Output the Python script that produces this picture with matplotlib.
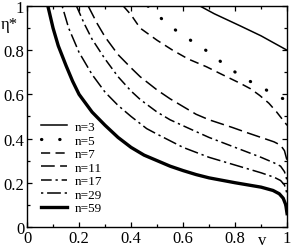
import matplotlib
matplotlib.use("Agg")
import matplotlib.pyplot as plt
from matplotlib.ticker import MultipleLocator, FuncFormatter

plt.rcParams["font.family"] = ["Liberation Serif", "DejaVu Serif"]
plt.rcParams["mathtext.fontset"] = "stix"

# curves, one per n
x_n3 = [0.665, 0.72, 0.82, 0.9, 0.946, 1.0]
y_n3 = [1.0, 0.965, 0.91, 0.865, 0.835, 0.80]

x_n5 = [0.465, 0.5, 0.56, 0.635, 0.7, 0.775, 0.845, 0.92, 0.96, 1.0]
y_n5 = [1.0, 0.96, 0.9, 0.84, 0.79, 0.72, 0.667, 0.62, 0.59, 0.575]

x_n7 = [0.37, 0.4, 0.435, 0.5, 0.56, 0.62, 0.69, 0.75, 0.82, 0.86, 0.895, 0.93, 0.96, 1.0]
y_n7 = [1.0, 0.96, 0.9, 0.845, 0.8, 0.76, 0.725, 0.69, 0.65, 0.625, 0.595, 0.56, 0.52, 0.46]

x_n11 = [0.235, 0.27, 0.3, 0.35, 0.4, 0.435, 0.5, 0.55, 0.65, 0.7, 0.79, 0.85, 0.9, 0.95, 0.975, 0.99, 1.0]
y_n11 = [1.0, 0.92, 0.86, 0.78, 0.72, 0.68, 0.62, 0.58, 0.51, 0.485, 0.45, 0.425, 0.405, 0.385, 0.37, 0.345, 0.3]

x_n17 = [0.19, 0.22, 0.25, 0.3, 0.35, 0.4, 0.435, 0.5, 0.55, 0.615, 0.7, 0.8, 0.9, 0.95, 0.975, 0.99, 1.0]
y_n17 = [1.0, 0.92, 0.85, 0.76, 0.68, 0.615, 0.577, 0.52, 0.485, 0.45, 0.405, 0.36, 0.315, 0.29, 0.275, 0.25, 0.21]

x_n29 = [0.135, 0.16, 0.2, 0.25, 0.3, 0.35, 0.4, 0.46, 0.5, 0.6, 0.7, 0.8, 0.9, 0.95, 0.975, 0.99, 1.0]
y_n29 = [1.0, 0.9, 0.79, 0.69, 0.61, 0.55, 0.5, 0.445, 0.42, 0.36, 0.315, 0.28, 0.245, 0.225, 0.21, 0.19, 0.15]

x_n59 = [0.08, 0.1, 0.12, 0.15, 0.175, 0.2, 0.25, 0.3, 0.35, 0.4, 0.45, 0.5, 0.55, 0.6,
         0.65, 0.7, 0.8, 0.9, 0.946, 0.97, 0.985, 0.995, 1.0]
y_n59 = [1.0, 0.9, 0.82, 0.73, 0.66, 0.6, 0.52, 0.46, 0.405, 0.36, 0.325, 0.3, 0.275, 0.255,
         0.237, 0.222, 0.2, 0.18, 0.165, 0.15, 0.13, 0.1, 0.06]

labels = ["n=3", "n=5", "n=7", "n=11", "n=17", "n=29", "n=59"]

fig = plt.figure(figsize=(2.91, 2.51), dpi=100)
ax = fig.add_axes([0.093, 0.092, 0.8935, 0.88])

ax.plot(x_n3, y_n3, color="black", lw=1.1, label=labels[0])
ax.plot(x_n5, y_n5, color="black", lw=2.3, ls=(0, (0.1, 5.6)),
        dash_capstyle="round", label=labels[1])
ax.plot(x_n7, y_n7, color="black", lw=1.1, ls=(0, (6, 3.5)), label=labels[2])
ax.plot(x_n11, y_n11, color="black", lw=1.1, ls=(0, (9, 3.5)), label=labels[3])
ax.plot(x_n17, y_n17, color="black", lw=1.1, ls=(0, (7, 2.5, 1.5, 2.5)), label=labels[4])
ax.plot(x_n29, y_n29, color="black", lw=1.1, ls=(0, (1.5, 2.5, 9, 2.5)), label=labels[5])
ax.plot(x_n59, y_n59, color="black", lw=2.4, label=labels[6])

ax.set_xlim(0, 1)
ax.set_ylim(0, 1)
fmt = FuncFormatter(lambda v, p: "%g" % v)
ax.xaxis.set_major_locator(MultipleLocator(0.2))
ax.yaxis.set_major_locator(MultipleLocator(0.2))
ax.xaxis.set_minor_locator(MultipleLocator(0.1))
ax.yaxis.set_minor_locator(MultipleLocator(0.1))
ax.xaxis.set_major_formatter(fmt)
ax.yaxis.set_major_formatter(fmt)
ax.tick_params(which="both", direction="in", top=True, right=True, labelsize=12, pad=2)
ax.tick_params(which="major", length=3.5, width=0.9)
ax.tick_params(which="minor", length=2, width=0.9)
for s in ax.spines.values():
    s.set_linewidth(1.0)

ax.text(-0.1, 0.92, "η*", transform=ax.transAxes, fontsize=12, ha="left", va="center")
fig.text(0.9, 0.008, "v", fontsize=12, ha="center", va="bottom")

ax.legend(loc="lower left", bbox_to_anchor=(0.02, 0.015), frameon=False, fontsize=9.5,
          handlelength=1.9, handletextpad=0.6, labelspacing=0.1, borderpad=0.2)

fig.savefig("out.png", dpi=100)
